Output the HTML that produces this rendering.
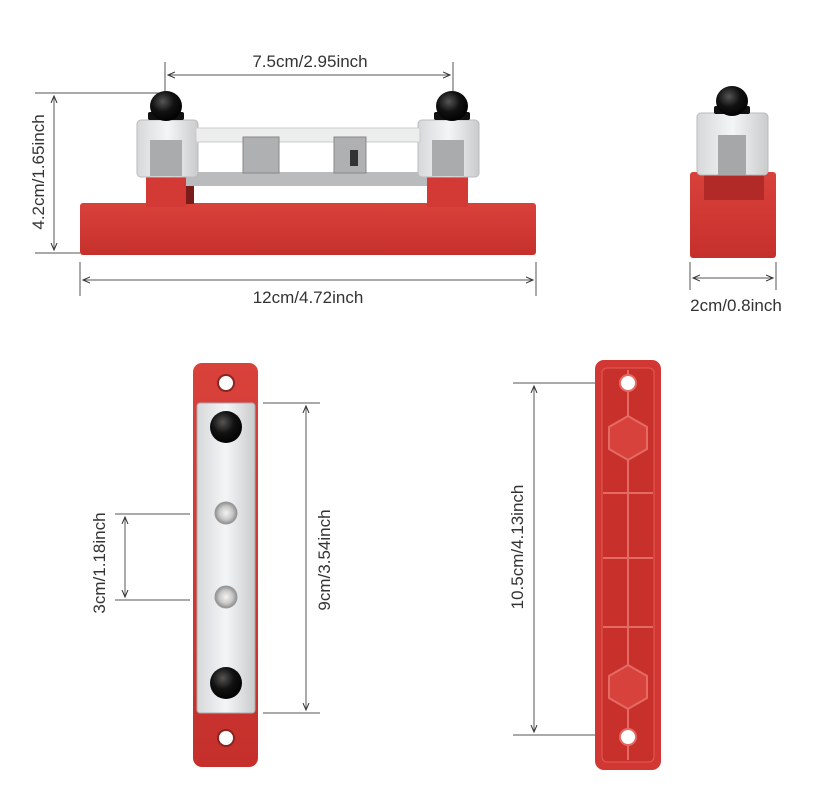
<!DOCTYPE html>
<html><head><meta charset="utf-8"><style>
html,body{margin:0;padding:0;background:#fff;}
svg{display:block;}
text{font-family:"Liberation Sans",sans-serif;font-size:17px;fill:#333;}
</style></head><body>
<svg width="815" height="800" viewBox="0 0 815 800" xmlns="http://www.w3.org/2000/svg">
<defs>
<linearGradient id="red" x1="0" y1="0" x2="0" y2="1"><stop offset="0" stop-color="#d9413b"/><stop offset="1" stop-color="#c6302c"/></linearGradient>
<linearGradient id="clear" x1="0" y1="0" x2="1" y2="0"><stop offset="0" stop-color="#d6d8da"/><stop offset=".5" stop-color="#f4f5f6"/><stop offset="1" stop-color="#c9cbcd"/></linearGradient>
<radialGradient id="cap" cx=".4" cy=".35" r=".7"><stop offset="0" stop-color="#555"/><stop offset=".5" stop-color="#111"/><stop offset="1" stop-color="#000"/></radialGradient>
<radialGradient id="stud" cx=".5" cy=".5" r=".5"><stop offset="0" stop-color="#f4f4f4"/><stop offset=".6" stop-color="#c8c8c8"/><stop offset="1" stop-color="#8d8d8d"/></radialGradient>
<marker id="ar" markerWidth="8" markerHeight="8" refX="7" refY="4" orient="auto-start-reverse"><path d="M0,1 L7,4 L0,7" fill="none" stroke="#333" stroke-width="1"/></marker>
</defs>
<g stroke="#555" stroke-width="1" fill="none">
<line x1="165" y1="62" x2="165" y2="95"/><line x1="453" y1="62" x2="453" y2="95"/>
<line x1="168" y1="75" x2="450" y2="75" marker-start="url(#ar)" marker-end="url(#ar)"/>
<line x1="35" y1="93" x2="160" y2="93"/><line x1="35" y1="253" x2="80" y2="253"/>
<line x1="54" y1="96" x2="54" y2="250" marker-start="url(#ar)" marker-end="url(#ar)"/>
<line x1="80" y1="262" x2="80" y2="296"/><line x1="536" y1="262" x2="536" y2="296"/>
<line x1="83" y1="280" x2="533" y2="280" marker-start="url(#ar)" marker-end="url(#ar)"/>
<line x1="690" y1="262" x2="690" y2="290"/><line x1="776" y1="262" x2="776" y2="290"/>
<line x1="693" y1="278" x2="773" y2="278" marker-start="url(#ar)" marker-end="url(#ar)"/>
<line x1="115" y1="514" x2="190" y2="514"/><line x1="115" y1="600" x2="190" y2="600"/>
<line x1="125" y1="517" x2="125" y2="597" marker-start="url(#ar)" marker-end="url(#ar)"/>
<line x1="263" y1="403" x2="320" y2="403"/><line x1="263" y1="713" x2="320" y2="713"/>
<line x1="306" y1="406" x2="306" y2="710" marker-start="url(#ar)" marker-end="url(#ar)"/>
<line x1="513" y1="383" x2="628" y2="383"/><line x1="513" y1="735" x2="628" y2="735"/>
<line x1="534" y1="386" x2="534" y2="732" marker-start="url(#ar)" marker-end="url(#ar)"/>
</g>
<text x="310" y="67" text-anchor="middle">7.5cm/2.95inch</text>
<text x="308" y="303" text-anchor="middle">12cm/4.72inch</text>
<text x="736" y="311" text-anchor="middle">2cm/0.8inch</text>
<text transform="translate(44,172) rotate(-90)" text-anchor="middle">4.2cm/1.65inch</text>
<text transform="translate(105,563) rotate(-90)" text-anchor="middle">3cm/1.18inch</text>
<text transform="translate(330,560) rotate(-90)" text-anchor="middle">9cm/3.54inch</text>
<text transform="translate(523,547) rotate(-90)" text-anchor="middle">10.5cm/4.13inch</text>

<!-- top-left product -->
<rect x="186" y="172" width="246" height="14" fill="#b9bbbd"/>
<rect x="80" y="203" width="456" height="52" rx="3" fill="url(#red)"/>
<rect x="146" y="177" width="40" height="30" fill="#d33a35"/>
<rect x="427" y="177" width="41" height="30" fill="#d33a35"/>
<rect x="186" y="186" width="8" height="18" fill="#7a1d1a"/>
<rect x="137" y="120" width="61" height="57" rx="4" fill="url(#clear)" stroke="#bbb"/>
<rect x="418" y="120" width="61" height="57" rx="4" fill="url(#clear)" stroke="#bbb"/>
<rect x="196" y="128" width="224" height="14" fill="#eceded" stroke="#ccc"/>
<rect x="150" y="140" width="32" height="36" fill="#a9abad"/>
<rect x="432" y="140" width="32" height="36" fill="#a9abad"/>
<rect x="243" y="137" width="36" height="36" fill="#aeb0b2" stroke="#888"/>
<rect x="334" y="137" width="32" height="36" fill="#aeb0b2" stroke="#888"/>
<rect x="350" y="150" width="8" height="16" fill="#333"/>
<rect x="148" y="112" width="36" height="8" rx="2" fill="#111"/>
<rect x="434" y="112" width="36" height="8" rx="2" fill="#111"/>
<ellipse cx="166" cy="106" rx="16" ry="15" fill="url(#cap)"/>
<ellipse cx="452" cy="106" rx="16" ry="15" fill="url(#cap)"/>

<!-- top-right product -->
<rect x="690" y="172" width="86" height="86" rx="3" fill="url(#red)"/>
<rect x="704" y="172" width="60" height="28" fill="#b12a27"/>
<rect x="697" y="113" width="71" height="62" rx="4" fill="url(#clear)" stroke="#bbb"/>
<rect x="718" y="135" width="28" height="40" fill="#a5a7a9"/>
<rect x="714" y="106" width="36" height="8" rx="2" fill="#111"/>
<ellipse cx="732" cy="101" rx="16" ry="15" fill="url(#cap)"/>

<!-- bottom-left bar -->
<rect x="193" y="363" width="65" height="404" rx="9" fill="url(#red)"/>
<circle cx="226" cy="383" r="8" fill="#fff" stroke="#8a2420" stroke-width="2"/>
<circle cx="226" cy="738" r="8" fill="#fff" stroke="#8a2420" stroke-width="2"/>
<rect x="197" y="403" width="58" height="310" rx="3" fill="url(#clear)" stroke="#aaa"/>
<circle cx="226" cy="427" r="16" fill="url(#cap)"/>
<circle cx="226" cy="683" r="16" fill="url(#cap)"/>
<circle cx="226" cy="513" r="11" fill="url(#stud)" stroke="#999"/>
<circle cx="226" cy="597" r="11" fill="url(#stud)" stroke="#999"/>

<!-- bottom-right bar -->
<rect x="595" y="360" width="66" height="410" rx="9" fill="#d23833"/>
<rect x="602" y="368" width="52" height="394" rx="5" fill="#c8302c" stroke="#e45a55" stroke-width="1"/>
<g stroke="#e66a64" stroke-width="2">
<line x1="628" y1="370" x2="628" y2="760"/>
<line x1="603" y1="493" x2="653" y2="493"/>
<line x1="603" y1="558" x2="653" y2="558"/>
<line x1="603" y1="627" x2="653" y2="627"/>
</g>
<polygon points="628,416 647,427 647,449 628,460 609,449 609,427" fill="#d8423d" stroke="#e66a64" stroke-width="2"/>
<polygon points="628,665 647,676 647,698 628,709 609,698 609,676" fill="#d8423d" stroke="#e66a64" stroke-width="2"/>
<circle cx="628" cy="383" r="8" fill="#fff" stroke="#e66a64" stroke-width="2"/>
<circle cx="628" cy="737" r="8" fill="#fff" stroke="#e66a64" stroke-width="2"/>
</svg>
</body></html>
